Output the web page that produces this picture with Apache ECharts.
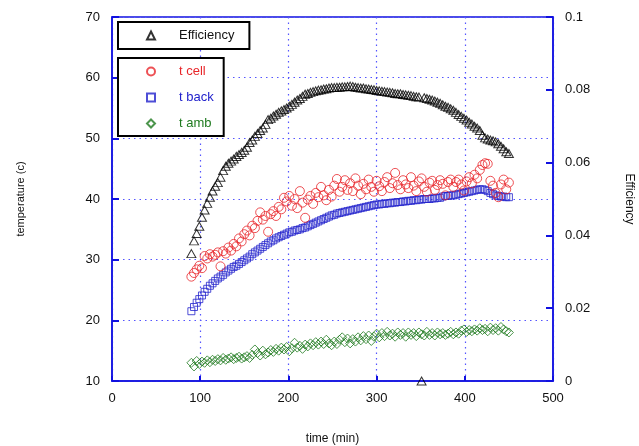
<!DOCTYPE html>
<html>
<head>
<meta charset="utf-8">
<script src="https://cdn.jsdelivr.net/npm/echarts@6/dist/echarts.min.js"></script>
<style>
html,body{margin:0;padding:0;background:#fff;overflow:hidden;}
#chart{width:639px;height:446px;}
</style>
</head>
<body>
<div id="chart"></div>
<script>
var times = [90,93,96,99,102,105,108,111,114,117,120,123,126,129,132,135,138,141,144,147,
150,153,156,159,162,165,168,171,174,177,180,183,186,189,192,195,198,201,204,207,
210,213,216,219,222,225,228,231,234,237,240,243,246,249,252,255,258,261,264,267,
270,273,276,279,282,285,288,291,294,297,300,303,306,309,312,315,318,321,324,327,
330,333,336,339,342,345,348,351,354,357,360,363,366,369,372,375,378,381,384,387,
390,393,396,399,402,405,408,411,414,417,420,423,426,429,432,435,438,441,444,447,450];

var efficiency = [.0350,.0385,.0405,.0425,.0450,.0470,.0488,.0505,.0522,.0535,.0545,.0560,.0578,.0590,.0598,.0604,.0610,.0617,.0622,.0628,
.0634,.0642,.0655,.0662,.0672,.0680,.0688,.0695,.0705,.0718,.0722,.0728,.0733,.0738,.0742,.0746,.0750,.0755,.0760,.0766,
.0772,.0776,.0782,.0788,.0790,.0793,.0795,.0797,.0799,.0800,.0802,.0803,.0805,.0806,.0806,.0807,.0807,.0808,.0808,.0809,
.0810,.0809,.0807,.0806,.0805,.0805,.0803,.0802,.0801,.0800,.0798,.0797,.0796,.0795,.0794,.0793,.0792,.0790,.0789,.0789,
.0787,.0786,.0785,.0784,.0782,.0781,.0780,0,.0778,.0776,.0774,.0772,.0769,.0766,.0763,.0759,.0755,.0752,.0748,.0744,
.0738,.0732,.0727,.0722,.0717,.0711,.0706,.0700,.0695,.0688,.0675,.0668,.0665,.0662,.0660,.0657,.0652,.0645,.0638,.0630,.0625];

var tCell = [27.2,27.8,28.4,29.0,28.6,30.6,30.2,30.9,30.5,30.8,31.2,28.9,31.4,31.0,32.0,31.5,32.6,32.2,33.5,33.0,
34.2,34.8,34.0,35.6,35.2,36.4,37.8,36.6,37.2,34.6,37.5,38.0,37.2,38.7,38.3,40.2,39.6,40.5,38.9,40.0,
38.5,41.3,39.4,36.9,39.9,40.5,39.2,41.0,40.3,42.0,40.6,39.8,41.5,40.4,42.2,43.3,41.2,42.0,43.1,41.5,
42.6,41.3,43.4,42.2,40.8,42.5,41.6,43.2,42.0,41.2,43.0,42.1,41.3,42.8,43.6,41.8,42.6,44.3,42.3,41.6,
43.1,42.4,41.8,43.6,42.2,41.3,42.9,43.4,42.0,41.2,42.7,43.0,41.5,42.3,43.1,42.5,40.6,42.8,43.2,42.0,
42.8,43.2,42.4,41.4,42.9,43.6,42.6,44.0,43.4,44.8,45.6,45.9,45.8,43.0,42.2,41.0,40.3,42.4,43.2,41.6,42.7];

var tBack = [21.5,22.2,22.9,23.5,24.1,24.7,25.2,25.7,26.1,26.5,26.9,27.2,27.5,27.9,28.2,28.5,28.8,29.0,29.3,29.6,
29.9,30.2,30.5,30.9,31.2,31.5,31.8,32.1,32.4,32.7,33.0,33.2,33.5,33.7,33.9,34.1,34.3,34.5,34.6,34.8,
34.9,35.0,35.2,35.3,35.5,35.7,35.9,36.1,36.3,36.5,36.7,36.9,37.1,37.3,37.4,37.6,37.7,37.8,37.9,38.0,
38.1,38.2,38.3,38.4,38.5,38.6,38.7,38.8,38.9,39.0,39.1,39.1,39.2,39.2,39.3,39.3,39.4,39.4,39.5,39.5,
39.6,39.6,39.7,39.7,39.8,39.8,39.9,39.9,40.0,40.0,40.0,40.1,40.1,40.2,40.2,40.4,40.5,40.5,40.6,40.6,
40.7,40.8,40.9,41.0,41.1,41.2,41.3,41.4,41.5,41.6,41.6,41.5,41.3,41.0,40.8,40.6,40.5,40.4,40.4,40.3,40.3];

var tAmb = [13.0,12.4,13.3,12.8,13.2,13.0,13.4,13.1,13.5,13.3,13.6,13.4,13.8,13.5,13.7,13.9,13.6,13.8,14.0,13.7,
13.9,14.1,13.8,14.3,15.2,14.6,14.2,15.0,14.4,14.7,15.1,14.8,15.3,15.0,15.5,15.2,15.6,14.9,15.4,16.3,
15.5,15.8,15.3,16.0,15.7,16.2,15.9,16.4,16.0,16.5,16.1,16.8,16.2,15.9,16.5,16.1,16.8,17.2,16.4,17.0,
16.2,16.9,16.5,17.2,16.7,17.4,16.9,17.5,16.6,17.3,17.8,17.2,17.9,17.4,18.1,17.5,17.8,17.3,18.0,17.6,
17.9,17.3,18.0,17.6,17.9,17.4,18.0,17.7,17.5,18.1,17.6,17.9,17.5,18.0,17.7,17.9,17.6,17.8,18.1,17.7,
18.0,17.8,18.3,18.5,18.1,18.4,18.2,18.5,18.3,18.7,18.4,18.6,18.2,18.8,18.4,18.7,18.3,18.9,18.5,18.2,18.0];

var xTicks = {min: 0, max: 500, interval: 100};
var yLeftTicks = {min: 10, max: 70, interval: 10};
var yRightTicks = {min: 0, max: 0.1, interval: 0.02};

function pairs(xs, ys) {
  var out = [];
  for (var i = 0; i < xs.length; i++) out.push([xs[i], ys[i]]);
  return out;
}

var FONT = 'Liberation Sans, Arial, sans-serif';
var BLUE = '#1010e0';
var RED = '#e8262a';
var SQ = '#2222cc';
var GREEN = '#1f7a1f';

var chart = echarts.init(document.getElementById('chart'), null, {renderer: 'canvas', width: 639, height: 446});
var gridLine = {show: true, lineStyle: {color: '#5555ff', type: [1.5, 4], width: 1.2}};
var legendText = {fontFamily: FONT, fontSize: 13, padding: [0, 0, 0, 19]};

chart.setOption({
  animation: false,
  backgroundColor: '#fff',
  textStyle: {fontFamily: FONT},
  grid: {left: 112, right: 86, top: 17, bottom: 65, show: true, borderColor: BLUE, borderWidth: 1.5,
         backgroundColor: 'transparent', containLabel: false, outerBoundsMode: 'none'},
  legend: [
    {
      data: [{name: 'Efficiency', textStyle: {color: '#111'}}],
      left: 118, top: 22, orient: 'vertical',
      itemWidth: 8, itemHeight: 8, itemGap: 10,
      padding: [7, 15, 7, 28],
      borderColor: '#000', borderWidth: 2, backgroundColor: '#fff',
      textStyle: legendText
    },
    {
      data: [
        {name: 't cell', textStyle: {color: RED}},
        {name: 't back', textStyle: {color: SQ}},
        {name: 't amb', textStyle: {color: GREEN}}
      ],
      left: 118, top: 58, orient: 'vertical',
      itemWidth: 8, itemHeight: 8, itemGap: 13,
      padding: [7, 10, 6, 28],
      borderColor: '#000', borderWidth: 2, backgroundColor: '#fff',
      textStyle: legendText
    }
  ],
  xAxis: {
    type: 'value', min: xTicks.min, max: xTicks.max, interval: xTicks.interval,
    name: 'time (min)', nameLocation: 'middle', nameGap: 52,
    nameTextStyle: {fontFamily: FONT, fontSize: 12, color: '#111'},
    axisLine: {show: true, lineStyle: {color: BLUE, width: 1.5}},
    axisTick: {show: true, inside: true, length: 5, lineStyle: {color: BLUE, width: 2}},
    axisLabel: {fontFamily: FONT, fontSize: 13, color: '#111', margin: 11},
    splitLine: gridLine
  },
  yAxis: [
    {
      type: 'value', min: yLeftTicks.min, max: yLeftTicks.max, interval: yLeftTicks.interval,
      name: 'temperature (c)', nameLocation: 'middle', nameGap: 86, nameRotate: 90,
      nameTextStyle: {fontFamily: FONT, fontSize: 11, color: '#111'},
      axisLine: {show: true, lineStyle: {color: BLUE, width: 1.5}},
      axisTick: {show: true, inside: true, length: 7, lineStyle: {color: BLUE, width: 2}},
      axisLabel: {fontFamily: FONT, fontSize: 13, color: '#111', margin: 12},
      splitLine: gridLine
    },
    {
      type: 'value', min: yRightTicks.min, max: yRightTicks.max, interval: yRightTicks.interval,
      position: 'right',
      name: 'Efficiency', nameLocation: 'middle', nameGap: 70, nameRotate: -90,
      nameTextStyle: {fontFamily: FONT, fontSize: 12, color: '#111'},
      axisLine: {show: true, lineStyle: {color: BLUE, width: 1.5}},
      axisTick: {show: true, inside: true, length: 7, lineStyle: {color: BLUE, width: 2}},
      axisLabel: {fontFamily: FONT, fontSize: 13, color: '#111', margin: 12},
      splitLine: {show: false}
    }
  ],
  series: [
    {
      name: 't amb', type: 'scatter', yAxisIndex: 0, data: pairs(times, tAmb),
      symbol: 'diamond', symbolSize: [9, 9],
      itemStyle: {color: 'rgba(0,0,0,0)', borderColor: GREEN, borderWidth: 1},
      emphasis: {disabled: true}
    },
    {
      name: 't back', type: 'scatter', yAxisIndex: 0, data: pairs(times, tBack),
      symbol: 'rect', symbolSize: 7,
      itemStyle: {color: 'rgba(0,0,0,0)', borderColor: SQ, borderWidth: 1},
      emphasis: {disabled: true}
    },
    {
      name: 't cell', type: 'scatter', yAxisIndex: 0, data: pairs(times, tCell),
      symbol: 'circle', symbolSize: 9,
      itemStyle: {color: 'rgba(0,0,0,0)', borderColor: RED, borderWidth: 1},
      emphasis: {disabled: true}
    },
    {
      name: 'Efficiency', type: 'scatter', yAxisIndex: 1, data: pairs(times, efficiency),
      symbol: 'triangle', symbolSize: [9, 8],
      itemStyle: {color: 'rgba(0,0,0,0)', borderColor: '#000', borderWidth: 1},
      emphasis: {disabled: true}
    }
  ]
});
</script>
</body>
</html>
